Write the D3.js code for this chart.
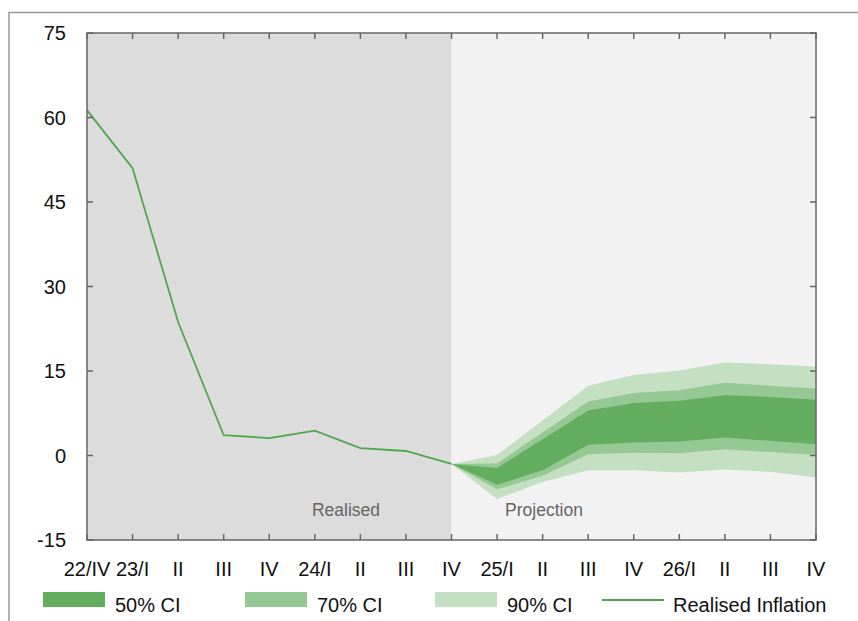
<!DOCTYPE html>
<html>
<head>
<meta charset="utf-8">
<script src="https://cdn.jsdelivr.net/npm/d3@7"></script>
<style>
  body { margin: 0; background: #fff; }
  text { font-family: "Liberation Sans", Arial, sans-serif; }
</style>
</head>
<body>
<svg id="chart" width="858" height="621"></svg>
<script>
// quarters on the x axis
const quarters = ["22/IV", "23/I", "II", "III", "IV", "24/I", "II", "III", "IV",
                  "25/I", "II", "III", "IV", "26/I", "II", "III", "IV"];
const yTicks = [-15, 0, 15, 30, 45, 60, 75];

// realised inflation, 22/IV .. 24/IV
const realised = [61.3, 51.0, 23.7, 3.6, 3.1, 4.4, 1.3, 0.8, -1.5];

// fan bands, 24/IV .. 26/IV (index 8 .. 16)
const band90Upper = [-1.5, 0.1, 6.2, 12.4, 14.3, 15.1, 16.5, 16.2, 15.8];
const band70Upper = [-1.5, -1.4, 4.1, 9.6, 11.1, 11.6, 12.9, 12.4, 11.9];
const band50Upper = [-1.5, -2.2, 2.9, 8.0, 9.3, 9.7, 10.7, 10.4, 9.9];
const band50Lower = [-1.5, -5.2, -2.6, 1.9, 2.3, 2.5, 3.2, 2.6, 2.0];
const band70Lower = [-1.5, -6.0, -3.6, 0.2, 0.5, 0.4, 1.1, 0.6, 0.1];
const band90Lower = [-1.5, -7.7, -4.7, -2.6, -2.6, -3.0, -2.5, -2.9, -3.9];

const svg = d3.select("#chart");
const plotL = 87, plotR = 816, plotT = 33, plotB = 540;
const fontSize = 20;

const x = d3.scaleLinear().domain([0, quarters.length - 1]).range([plotL, plotR]);
const y = d3.scaleLinear().domain([-15, 75]).range([plotB, plotT]);
const projStart = realised.length - 1;

// outer frame
svg.append("path")
    .attr("d", `M9,621V12.5H858`)
    .attr("fill", "none")
    .attr("stroke", "#9a9a9a")
    .attr("stroke-width", 1.5);

// backgrounds
svg.append("rect")
    .attr("x", plotL).attr("y", plotT)
    .attr("width", x(projStart) - plotL).attr("height", plotB - plotT)
    .attr("fill", "#dcdcdc");
svg.append("rect")
    .attr("x", x(projStart)).attr("y", plotT)
    .attr("width", plotR - x(projStart)).attr("height", plotB - plotT)
    .attr("fill", "#f2f2f2");

// fan
const bands = [
    { lo: band90Lower, hi: band90Upper, color: "#c4dfc2" },
    { lo: band70Lower, hi: band70Upper, color: "#95c892" },
    { lo: band50Lower, hi: band50Upper, color: "#63ad5f" }
];
const area = d3.area()
    .x((d, i) => x(projStart + i))
    .y0(d => y(d[0]))
    .y1(d => y(d[1]));
bands.forEach(b => {
    svg.append("path")
        .attr("d", area(b.lo.map((v, i) => [v, b.hi[i]])))
        .attr("fill", b.color);
});

// realised line
svg.append("path")
    .attr("d", d3.line().x((d, i) => x(i)).y(d => y(d))(realised))
    .attr("fill", "none")
    .attr("stroke", "#4fa64c")
    .attr("stroke-width", 1.8);

// region labels
svg.append("text")
    .attr("x", 346).attr("y", 516)
    .attr("text-anchor", "middle")
    .attr("font-size", 17.5).attr("fill", "#666")
    .text("Realised");
svg.append("text")
    .attr("x", 544).attr("y", 516)
    .attr("text-anchor", "middle")
    .attr("font-size", 17.5).attr("fill", "#666")
    .text("Projection");

// frame with inward ticks
const axisColor = "#666";
const tickLen = 6;
const gx = svg.append("g");
gx.append("rect")
    .attr("x", plotL).attr("y", plotT)
    .attr("width", plotR - plotL).attr("height", plotB - plotT)
    .attr("fill", "none").attr("stroke", axisColor).attr("stroke-width", 1.5);
quarters.forEach((q, i) => {
    gx.append("line")
        .attr("x1", x(i)).attr("x2", x(i))
        .attr("y1", plotT).attr("y2", plotT + tickLen)
        .attr("stroke", axisColor).attr("stroke-width", 1.5);
    gx.append("line")
        .attr("x1", x(i)).attr("x2", x(i))
        .attr("y1", plotB).attr("y2", plotB - tickLen)
        .attr("stroke", axisColor).attr("stroke-width", 1.5);
    gx.append("text")
        .attr("x", x(i)).attr("y", 576)
        .attr("text-anchor", "middle")
        .attr("font-size", fontSize).attr("fill", "#111")
        .text(q);
});
yTicks.forEach(t => {
    gx.append("line")
        .attr("x1", plotL).attr("x2", plotL + tickLen)
        .attr("y1", y(t)).attr("y2", y(t))
        .attr("stroke", axisColor).attr("stroke-width", 1.5);
    gx.append("line")
        .attr("x1", plotR).attr("x2", plotR - tickLen)
        .attr("y1", y(t)).attr("y2", y(t))
        .attr("stroke", axisColor).attr("stroke-width", 1.5);
    gx.append("text")
        .attr("x", 66).attr("y", y(t) + 7)
        .attr("text-anchor", "end")
        .attr("font-size", fontSize).attr("fill", "#111")
        .text(t);
});

// legend
const legend = [
    { label: "50% CI", color: "#63ad5f", type: "rect", x: 43 },
    { label: "70% CI", color: "#95c892", type: "rect", x: 245 },
    { label: "90% CI", color: "#c4dfc2", type: "rect", x: 435 },
    { label: "Realised Inflation", color: "#4fa64c", type: "line", x: 602 }
];
legend.forEach(l => {
    if (l.type === "rect") {
        svg.append("rect")
            .attr("x", l.x).attr("y", 592)
            .attr("width", 62).attr("height", 15)
            .attr("fill", l.color);
    } else {
        svg.append("line")
            .attr("x1", l.x).attr("x2", l.x + 62)
            .attr("y1", 600).attr("y2", 600)
            .attr("stroke", l.color).attr("stroke-width", 1.8);
    }
    svg.append("text")
        .attr("x", l.x + (l.type === "rect" ? 72 : 71)).attr("y", 612)
        .attr("font-size", fontSize).attr("fill", "#111")
        .text(l.label);
});
</script>
</body>
</html>
